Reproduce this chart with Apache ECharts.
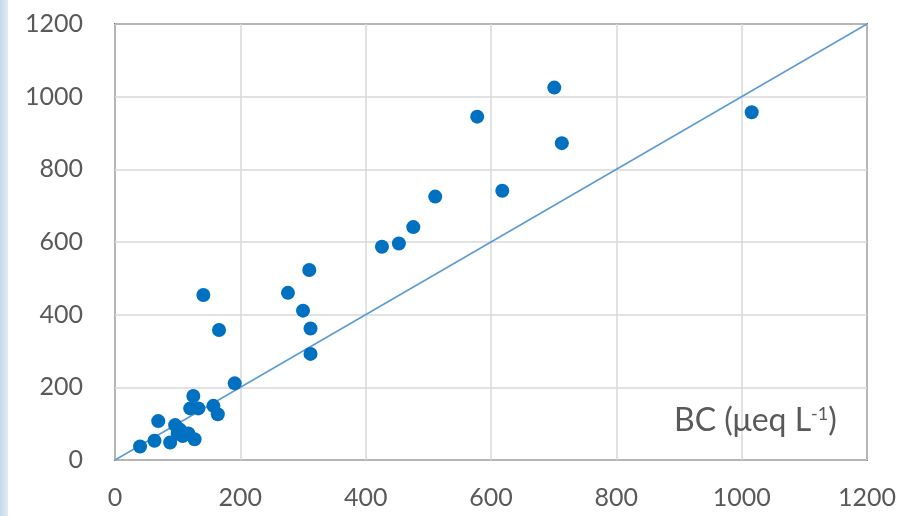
<!DOCTYPE html>
<html>
<head>
<meta charset="utf-8">
<script src="https://cdn.jsdelivr.net/npm/echarts@6/dist/echarts.min.js"></script>
<style>html,body{margin:0;padding:0;background:#fff;}#chart{width:899px;height:516px;}</style>
</head>
<body>
<div id="chart"></div>
<script>
// Data
const bcValues = [40, 63, 69, 88, 96, 100, 104, 108, 117, 127, 120, 133, 125, 157, 164, 191,
  141, 166, 276, 300, 310, 312, 312, 426, 453, 476, 511, 578, 618, 701, 713, 1016];
const yValues = [37, 53, 107, 48, 96, 73, 83, 66, 73, 57, 142, 142, 176, 149, 126, 211,
  454, 358, 460, 411, 523, 362, 292, 587, 596, 641, 725, 945, 741, 1025, 872, 957];
const oneToOneLine = [[0, 0], [1200, 1200]];
const tickValues = [0, 200, 400, 600, 800, 1000, 1200];
const axisTitle = 'BC (μeq L';

const points = bcValues.map((v, i) => [v, yValues[i]]);
const chart = echarts.init(document.getElementById('chart'));
const fam = 'Lato, "Open Sans", sans-serif';
const labelStyle = { color: '#595959', fontSize: 25, fontFamily: fam, formatter: v => String(v) };
chart.setOption({
  animation: false,
  backgroundColor: '#ffffff',
  grid: { left: 115, right: 30, top: 24, bottom: 56, show: true, borderColor: '#1a1a1a', borderWidth: 1.5, backgroundColor: 'transparent' },
  xAxis: {
    type: 'value', min: tickValues[0], max: tickValues[tickValues.length - 1], interval: 200,
    axisLine: { show: false }, axisTick: { show: false },
    axisLabel: Object.assign({ margin: 25 }, labelStyle),
    splitLine: { show: true, lineStyle: { color: '#d9d9d9', width: 1.5 } }
  },
  yAxis: {
    type: 'value', min: tickValues[0], max: tickValues[tickValues.length - 1], interval: 200,
    axisLine: { show: false }, axisTick: { show: false },
    axisLabel: Object.assign({ margin: 32 }, labelStyle),
    splitLine: { show: true, lineStyle: { color: '#d9d9d9', width: 1.5 } }
  },
  graphic: [
    { type: 'rect', left: 0, top: 0, shape: { width: 8, height: 516 },
      style: { fill: new echarts.graphic.LinearGradient(0, 0, 1, 0, [{ offset: 0, color: '#c4d8ea' }, { offset: 1, color: '#e2ecf5' }]) }, z: 0 },
    { type: 'text', left: 674, top: 405,
      style: { text: '{a|' + axisTitle + '}{s|-1}{a|)}', rich: {
        a: { fontSize: 32, fill: '#595959', fontFamily: fam },
        s: { fontSize: 18, fill: '#595959', verticalAlign: 'top', padding: [0, 0, 12, 0], fontFamily: fam }
      } }, z: 10 }
  ],
  series: [
    { type: 'line', data: oneToOneLine, symbol: 'none', lineStyle: { color: '#5b9bd5', width: 1.5 }, z: 2 },
    { type: 'scatter', data: points, symbolSize: 14, itemStyle: { color: '#0070c0', opacity: 1 }, z: 3 }
  ]
});
</script>
</body>
</html>
